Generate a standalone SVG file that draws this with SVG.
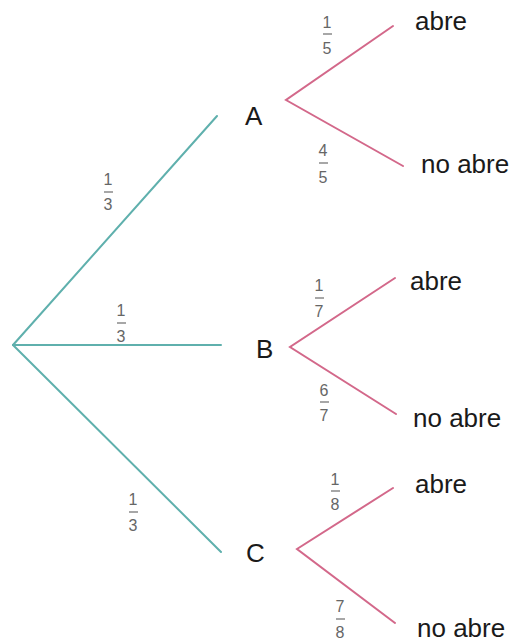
<svg xmlns="http://www.w3.org/2000/svg" width="518" height="642" viewBox="0 0 518 642">
<style>
.bg{fill:#ffffff}
.t{stroke:#5fb0ad;stroke-width:2;fill:none;stroke-linecap:round}
.p{stroke:#d3688a;stroke-width:2;fill:none;stroke-linecap:round}
.lbl{font-family:"Liberation Sans",Arial,sans-serif;font-size:26px;fill:#1a1a1a}
.fr{font-family:"Liberation Sans",Arial,sans-serif;font-size:16px;fill:#666666;text-anchor:middle}
.bar{stroke:#777777;stroke-width:1.3}
</style>
<rect class="bg" x="0" y="0" width="518" height="642"/>
<g id="connectors">
  <line class="t" x1="13" y1="345" x2="217" y2="116"/>
  <line class="t" x1="13" y1="345" x2="221" y2="345"/>
  <line class="t" x1="13" y1="345" x2="221" y2="552"/>
  <polyline class="p" points="393,26 286,100 403,166"/>
  <polyline class="p" points="395,278 290,347 396,414"/>
  <polyline class="p" points="393,488 297,549 395,623"/>
</g>
<g id="edge-labels">
  <g id="f-root-A"><text class="fr" x="108" y="185">1</text><line class="bar" x1="104" y1="192" x2="113" y2="192"/><text class="fr" x="108" y="210">3</text></g>
  <g id="f-root-B"><text class="fr" x="121" y="316">1</text><line class="bar" x1="117" y1="323" x2="126" y2="323"/><text class="fr" x="121" y="342">3</text></g>
  <g id="f-root-C"><text class="fr" x="133" y="505">1</text><line class="bar" x1="129" y1="512" x2="138" y2="512"/><text class="fr" x="133" y="531">3</text></g>
  <g id="f-A-abre"><text class="fr" x="327" y="28">1</text><line class="bar" x1="323" y1="34" x2="332" y2="34"/><text class="fr" x="327" y="54">5</text></g>
  <g id="f-A-no"><text class="fr" x="323" y="156">4</text><line class="bar" x1="319" y1="163" x2="328" y2="163"/><text class="fr" x="323" y="183">5</text></g>
  <g id="f-B-abre"><text class="fr" x="319" y="291">1</text><line class="bar" x1="315" y1="298" x2="324" y2="298"/><text class="fr" x="319" y="317">7</text></g>
  <g id="f-B-no"><text class="fr" x="324" y="396">6</text><line class="bar" x1="320" y1="402" x2="329" y2="402"/><text class="fr" x="324" y="421">7</text></g>
  <g id="f-C-abre"><text class="fr" x="335" y="485">1</text><line class="bar" x1="331" y1="491" x2="340" y2="491"/><text class="fr" x="335" y="510">8</text></g>
  <g id="f-C-no"><text class="fr" x="340" y="612">7</text><line class="bar" x1="336" y1="619" x2="345" y2="619"/><text class="fr" x="340" y="638">8</text></g>
</g>
<g id="node-A"><text class="lbl" x="245" y="125">A</text></g>
<g id="node-B"><text class="lbl" x="256" y="358">B</text></g>
<g id="node-C"><text class="lbl" x="246" y="562">C</text></g>
<g id="node-A-abre"><text class="lbl" x="415" y="30">abre</text></g>
<g id="node-A-no"><text class="lbl" x="421" y="173">no abre</text></g>
<g id="node-B-abre"><text class="lbl" x="410" y="290">abre</text></g>
<g id="node-B-no"><text class="lbl" x="413" y="427">no abre</text></g>
<g id="node-C-abre"><text class="lbl" x="415" y="493">abre</text></g>
<g id="node-C-no"><text class="lbl" x="417" y="637">no abre</text></g>
</svg>
